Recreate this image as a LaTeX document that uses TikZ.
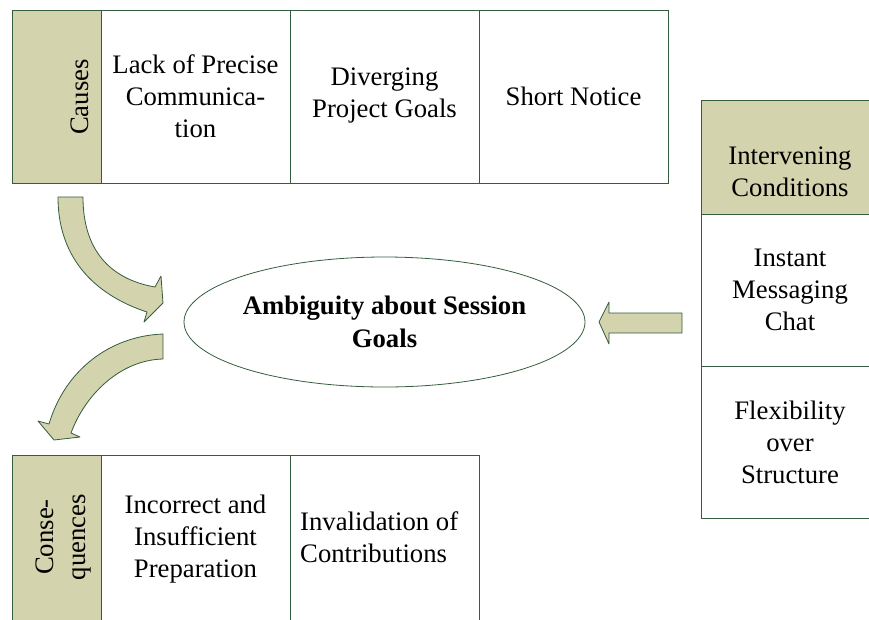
\documentclass[tikz,border=0pt]{standalone}
\usepackage{fontspec}
\setmainfont{Liberation Serif}
\usetikzlibrary{shapes.geometric}
\definecolor{olivefill}{RGB}{211,211,173}
\definecolor{boxline}{RGB}{52,92,62}
\tikzset{
	cell/.style={draw=boxline, line width=0.8pt, fill=white, inner sep=0pt},
	headcell/.style={cell, fill=olivefill},
	txt/.style={align=center, inner sep=0pt},
	blockarrow/.style={draw=boxline, line width=0.8pt, fill=olivefill, line join=round}
}
\begin{document}
\begin{tikzpicture}[x=1pt, y=-1pt, font=\fontsize{26.7}{32}\selectfont]
	\clip (0,0) rectangle (869,619);
	%CAUSES
	\node[headcell, minimum width=89, minimum height=173] (causes) at (56.5,96.5) {};
	\node[cell, minimum width=189, minimum height=173] (lack) at (195.5,96.5) {};
	\node[cell, minimum width=189, minimum height=173] (diverge) at (384.5,96.5) {};
	\node[cell, minimum width=189, minimum height=173] (notice) at (573.5,96.5) {};
	\node[txt, rotate=90] (causestxt) at (80,97) {Causes};
	\node[txt] (lacktxt) at (lack.center) {Lack of Precise\\Communica-\\tion};
	\node[txt] (divergetxt) at (384.5,95) {Diverging\\Project Goals};
	\node[txt] (noticetxt) at (573.5,96) {Short Notice};
	%INTERVENING
	\node[headcell, minimum width=178, minimum height=114] (interv) at (790,157) {};
	\node[cell, minimum width=178, minimum height=152] (chat) at (790,290) {};
	\node[cell, minimum width=178, minimum height=152] (flex) at (790,442) {};
	\node[txt] (intervtxt) at (790,172) {Intervening\\Conditions};
	\node[txt] (chattxt) at (chat.center) {Instant\\Messaging\\Chat};
	\node[txt] (flextxt) at (flex.center) {Flexibility\\over\\Structure};
	%CONSEQUENCES
	\node[headcell, minimum width=89, minimum height=172] (conseq) at (56.5,541) {};
	\node[cell, minimum width=189, minimum height=172] (prep) at (195.5,541) {};
	\node[cell, minimum width=189, minimum height=172] (invalid) at (384.5,541) {};
	\node[txt, rotate=90] (conseqtxt) at (64,537) {Conse-\\quences};
	\node[txt] (preptxt) at (195.5,539) {Incorrect and\\Insufficient\\Preparation};
	\node[txt, anchor=west, align=left] (invalidtxt) at (300,537) {Invalidation of\\Contributions};
	%PHENOMENON
	\node[draw=boxline, line width=0.8pt, ellipse, inner sep=0pt, minimum width=401, minimum height=130, align=center, font=\fontsize{26.7}{33}\selectfont\bfseries] (goal) at (384.5,322) {Ambiguity about Session\\Goals};
	%arrows
	\draw[blockarrow] (58,197) -- (83,197) .. controls (83,255) and (115,280) .. (155,287) -- (161,276) -- (163,303) -- (144,322) -- (147,312) .. controls (110,300) and (58,270) .. (58,197) -- cycle;
	\draw[blockarrow] (163,334) -- (163,359) .. controls (120,360) and (85,395) .. (71,433) -- (80,437) -- (54,440) -- (38,421) -- (49,424) .. controls (65,370) and (110,336) .. (163,334) -- cycle;
	\draw[blockarrow] (682,313) -- (609,313) -- (609,302) -- (599,322) -- (609,344) -- (609,333) -- (682,333) -- cycle;
\end{tikzpicture}
\end{document}
